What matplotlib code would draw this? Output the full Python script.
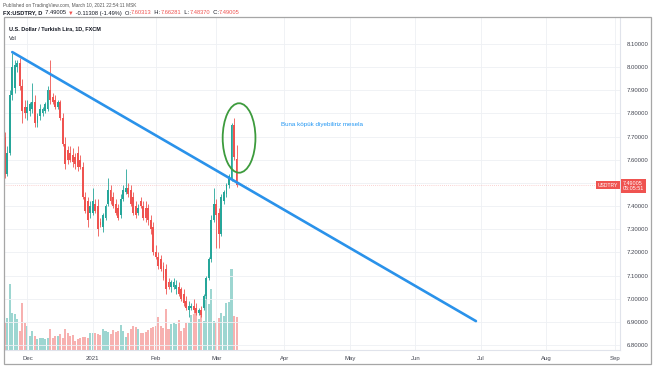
import numpy as np
import pandas as pd
import matplotlib
matplotlib.use("Agg")
import matplotlib.pyplot as plt
from matplotlib.patches import Ellipse, Rectangle

plt.rcParams['font.family'] = ['Liberation Sans', 'DejaVu Sans']

# daily candles, FX:USDTRY (Sun-Fri sessions), 2020-11-20 .. 2021-03-10
opens = [7.70, 7.54, 7.63, 7.88, 7.91, 8.00, 8.02, 7.92, 7.83, 7.80,
         7.81, 7.82, 7.85, 7.76, 7.79, 7.80, 7.81, 7.82, 7.90, 7.87,
         7.86, 7.83, 7.85, 7.78, 7.67, 7.64, 7.63, 7.62, 7.61, 7.63,
         7.60, 7.57, 7.44, 7.42, 7.37, 7.37, 7.41, 7.40, 7.33, 7.31,
         7.35, 7.41, 7.47, 7.44, 7.41, 7.39, 7.36, 7.43, 7.46, 7.48,
         7.47, 7.44, 7.40, 7.37, 7.42, 7.40, 7.39, 7.39, 7.34, 7.31,
         7.20, 7.18, 7.17, 7.14, 7.13, 7.07, 7.05, 7.05, 7.04, 7.05,
         7.04, 7.02, 6.99, 6.95, 6.96, 6.97, 6.96, 6.94, 6.95, 6.96,
         7.01, 7.09, 7.17, 7.34, 7.41, 7.37, 7.28, 7.42, 7.45, 7.49,
         7.52, 7.75, 7.60313]
highs = [7.72, 7.66, 7.90, 8.06, 8.03, 8.03, 8.04, 7.95, 7.86, 7.86,
         7.85, 7.93, 7.88, 7.80, 7.84, 7.83, 7.85, 7.92, 8.03, 7.89,
         7.88, 7.86, 7.86, 7.80, 7.70, 7.66, 7.66, 7.65, 7.63, 7.66,
         7.62, 7.59, 7.46, 7.44, 7.42, 7.48, 7.43, 7.43, 7.35, 7.37,
         7.41, 7.52, 7.49, 7.46, 7.43, 7.41, 7.45, 7.49, 7.56, 7.50,
         7.49, 7.46, 7.42, 7.41, 7.44, 7.42, 7.42, 7.41, 7.36, 7.33,
         7.23, 7.20, 7.19, 7.16, 7.15, 7.09, 7.08, 7.09, 7.08, 7.07,
         7.05, 7.04, 7.01, 6.99, 6.98, 7.00, 6.98, 6.96, 6.97, 7.02,
         7.10, 7.18, 7.36, 7.48, 7.43, 7.39, 7.45, 7.47, 7.50, 7.54,
         7.76, 7.78, 7.66281]
lows = [7.52, 7.53, 7.62, 7.86, 7.89, 7.98, 7.90, 7.76, 7.78, 7.77,
        7.79, 7.80, 7.74, 7.74, 7.77, 7.79, 7.80, 7.81, 7.84, 7.84,
        7.82, 7.82, 7.77, 7.66, 7.56, 7.58, 7.59, 7.57, 7.56, 7.55,
        7.56, 7.43, 7.37, 7.31, 7.35, 7.36, 7.37, 7.27, 7.31, 7.29,
        7.34, 7.40, 7.41, 7.39, 7.36, 7.34, 7.35, 7.42, 7.45, 7.44,
        7.40, 7.36, 7.35, 7.36, 7.39, 7.34, 7.33, 7.32, 7.28, 7.19,
        7.17, 7.13, 7.12, 7.08, 7.02, 7.04, 7.03, 7.04, 7.02, 7.01,
        6.99, 6.97, 6.95, 6.92, 6.95, 6.94, 6.93, 6.93, 6.92, 6.95,
        7.00, 7.08, 7.16, 7.33, 7.22, 7.22, 7.27, 7.41, 7.44, 7.48,
        7.51, 7.60, 7.48370]
closes = [7.54, 7.63, 7.88, 8.00, 8.01, 8.02, 7.92, 7.81, 7.80, 7.83,
          7.84, 7.85, 7.76, 7.79, 7.82, 7.82, 7.84, 7.90, 7.86, 7.85,
          7.83, 7.85, 7.78, 7.67, 7.58, 7.60, 7.60, 7.59, 7.58, 7.57,
          7.57, 7.44, 7.38, 7.34, 7.40, 7.42, 7.38, 7.30, 7.32, 7.36,
          7.40, 7.47, 7.42, 7.40, 7.37, 7.35, 7.43, 7.47, 7.48, 7.45,
          7.41, 7.37, 7.36, 7.39, 7.40, 7.35, 7.35, 7.34, 7.30, 7.20,
          7.18, 7.14, 7.13, 7.09, 7.04, 7.05, 7.07, 7.07, 7.06, 7.02,
          7.00, 6.98, 6.96, 6.97, 6.97, 6.95, 6.94, 6.95, 6.93, 7.01,
          7.09, 7.17, 7.34, 7.41, 7.36, 7.28, 7.44, 7.46, 7.49, 7.53,
          7.75, 7.61, 7.49005]
volumes = [82, 97, 197, 112, 107, 94, 57, 142, 82, 72,
           42, 57, 42, 32, 35, 37, 32, 35, 62, 37,
           42, 42, 47, 37, 62, 52, 42, 44, 27, 32,
           37, 39, 40, 37, 52, 52, 52, 47, 44, 62,
           57, 54, 47, 60, 54, 57, 74, 57, 40, 52,
           62, 72, 69, 62, 50, 52, 55, 60, 67, 70,
           72, 100, 72, 67, 124, 62, 77, 82, 77, 90,
           57, 67, 82, 80, 104, 107, 127, 92, 117, 87,
           170, 137, 184, 87, 82, 97, 112, 102, 142, 144,
           242, 102, 99]

month_starts = ["2020-12-01", "2021-01-01", "2021-02-01", "2021-03-01", "2021-04-01",
                "2021-05-01", "2021-06-01", "2021-07-01", "2021-08-01", "2021-09-01"]
month_labels = ["Dec", "2021", "Feb", "Mar", "Apr", "May", "Jun", "Jul", "Aug", "Sep"]
price_ticks = [6.8, 6.9, 7.0, 7.1, 7.2, 7.3, 7.4, 7.5, 7.6, 7.7, 7.8, 7.9, 8.0, 8.1]

last_price = 7.49005
trend_start = ("2020-11-24", 8.065)
trend_end = ("2021-06-29", 6.903)
note_text = "Buna köpük diyebiliriz mesela"

GREEN = "#26a69a"
RED = "#ef5350"

# bar calendar: no Saturday sessions, holidays removed
days = pd.date_range("2020-11-20", "2021-09-30", freq="D")
days = days[(days.dayofweek != 5) & ~days.isin(pd.to_datetime(["2020-12-25", "2021-01-01"]))]


def bar_index(d):
    return days.searchsorted(pd.Timestamp(d))


W, H = 654, 366
fig = plt.figure(figsize=(W / 100, H / 100), dpi=100)
rect = [4 / W, 16 / H, 616 / W, 333 / H]

ax_vol = fig.add_axes(rect)
ax = fig.add_axes(rect, sharex=ax_vol)
ax.patch.set_alpha(0)

o = np.array(opens)
h = np.array(highs)
l = np.array(lows)
c = np.array(closes)
x = np.arange(len(o))
up = c >= o
colors = np.where(up, GREEN, RED)

# volume underneath
ax_vol.bar(x, volumes, width=0.8, color=colors, alpha=0.45, linewidth=0)
ax_vol.set_ylim(0, 999)
ax_vol.set_yticks([])
for s in ax_vol.spines.values():
    s.set_visible(False)
ax_vol.tick_params(axis="x", length=0, labelbottom=False)

# grid; the 7.5 label sits under the last-price tag
ax.set_yticks(price_ticks)
ax.set_yticklabels(["" if abs(v - 7.5) < 1e-9 else f"{v:.5f}" for v in price_ticks])
ax.set_xticks([bar_index(m) for m in month_starts])
ax.set_xticklabels(month_labels)
ax.grid(True, color="#eef0f4", linewidth=0.6, zorder=0)
ax.set_axisbelow(True)

# candles
ax.vlines(x, l, h, colors=colors, linewidth=0.6, zorder=3)
body = np.maximum(np.abs(c - o), 0.004)
ax.bar(x, body, bottom=np.minimum(o, c), width=0.75, color=colors, linewidth=0, zorder=4)

ax.set_xlim(-0.28, 244.17)
ax.set_ylim(6.7782, 8.2166)

ax.yaxis.tick_right()
ax.tick_params(axis="y", length=0, pad=5, labelsize=4.3, labelcolor="#434651")
ax.tick_params(axis="x", length=0, pad=4, labelsize=4.3, labelcolor="#434651")
for side in ["left", "top"]:
    ax.spines[side].set_visible(False)
for side in ["right", "bottom"]:
    ax.spines[side].set_color("#e0e3eb")
    ax.spines[side].set_linewidth(0.8)

# current price line and tags
ax.axhline(last_price, color=RED, linewidth=0.5, linestyle=(0, (1, 2)), alpha=0.5, zorder=2)
ax.text(0.9968, last_price, "USDTRY", transform=ax.get_yaxis_transform(), ha="right", va="center",
        fontsize=3.6, color="white", zorder=6,
        bbox=dict(boxstyle="square,pad=0.3", fc=RED, ec="none"))
ax.text(1.004, last_price + 0.018, f"{last_price:.5f}\n05:05:51", transform=ax.get_yaxis_transform(),
        ha="left", va="top", fontsize=3.9, color="white", linespacing=1.1, zorder=6, clip_on=False,
        bbox=dict(boxstyle="square,pad=0.35", fc=RED, ec="none"))

# trend line drawing
ax.plot([bar_index(trend_start[0]), bar_index(trend_end[0])], [trend_start[1], trend_end[1]],
        color="#2a92ea", linewidth=1.9, solid_capstyle="round", zorder=5)

# hand drawn circle and note
ax.add_patch(Ellipse((bar_index("2021-03-11"), 7.694), 13.0, 0.30, fill=False,
                     edgecolor="#3d9b3d", linewidth=1.3, zorder=5))
ax.text(bar_index("2021-03-30") + 0.6, 7.754, note_text, fontsize=4.5, color="#2196f3",
        ha="left", va="center", zorder=5)

# texts inside pane
fig.text(9 / W, 1 - 29 / H, "U.S. Dollar / Turkish Lira, 1D, FXCM", fontsize=4.0,
         weight="bold", color="#131722", va="center")
fig.text(9 / W, 1 - 38 / H, "Vol", fontsize=4.0, color="#131722", va="center")

# header above the chart
fig.text(3 / W, 1 - 5 / H, "Published on TradingView.com, March 10, 2021 22:54:11 MSK",
         fontsize=3.4, color="#555555", va="center")
parts = [("FX:USDTRY, D", "#131722", "bold"), ("  7.49005 ", "#131722", "normal"),
         ("▼", RED, "normal"), (" -0.11308 (-1.49%)  O:", "#131722", "normal"),
         ("7.60313", RED, "normal"), ("  H:", "#131722", "normal"),
         ("7.66281", RED, "normal"), ("  L:", "#131722", "normal"),
         ("7.48370", RED, "normal"), ("  C:", "#131722", "normal"),
         ("7.49005", RED, "normal")]
t = fig.text(3 / W, 1 - 13 / H, parts[0][0], fontsize=4.15, color=parts[0][1],
             weight=parts[0][2], va="center")
for s, col, wt in parts[1:]:
    t = ax.annotate(s, xy=(1, 0), xycoords=t, va="bottom", ha="left",
                    fontsize=4.15, color=col, weight=wt, annotation_clip=False)

# outer frame
fig.add_artist(Rectangle((4 / W, 2 / H), 647 / W, 347 / H, transform=fig.transFigure,
                         fill=False, edgecolor="#a6a6a6", linewidth=0.9))

fig.savefig("out.png", dpi=100)
